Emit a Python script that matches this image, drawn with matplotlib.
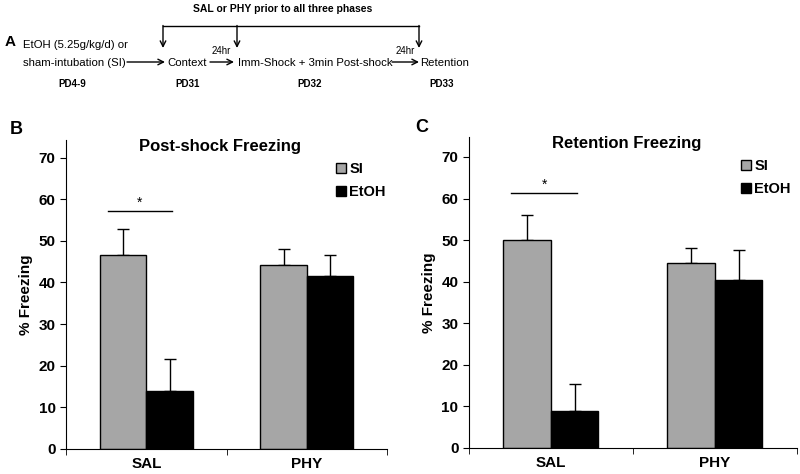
import matplotlib
matplotlib.use("Agg")
import matplotlib.pyplot as plt
from matplotlib import font_manager
from matplotlib.patches import Patch
import numpy as np

plt.rcParams['font.family'] = ['Liberation Sans', 'DejaVu Sans']

groups = ["SAL", "PHY"]
series = ["SI", "EtOH"]
colors = ["#a6a6a6", "#000000"]

post_si = [46.7, 44.1]
post_si_err = [6.1, 4.0]
post_etoh = [14.0, 41.5]
post_etoh_err = [7.6, 5.0]

ret_si = [50.0, 44.6]
ret_si_err = [6.1, 3.5]
ret_etoh = [9.0, 40.4]
ret_etoh_err = [6.4, 7.3]

# narrow font for the schematic if it is there
names = {f.name for f in font_manager.fontManager.ttflist}
if "Liberation Sans Narrow" in names:
    sfam, sbig, ssmall = ["Liberation Sans Narrow", "Liberation Sans"], 10.5, 8.5
else:
    sfam, sbig, ssmall = ["Liberation Sans", "DejaVu Sans"], 8.2, 7

fig = plt.figure(figsize=(8, 4.74), dpi=100)


def panel(rect, si, si_err, etoh, etoh_err, title, ytop, sig_y, sig_x, leg_xy):
    ax = fig.add_axes(rect)
    x = np.arange(len(groups))
    w = 0.29
    ax.bar(x - w / 2, si, w, color=colors[0], edgecolor="black", linewidth=1, zorder=2)
    ax.bar(x + w / 2, etoh, w, color=colors[1], edgecolor="black", linewidth=1, zorder=2)
    ax.errorbar(x - w / 2, si, yerr=[np.zeros(2), si_err], fmt="none", ecolor="black",
                elinewidth=1, capsize=4, capthick=1, zorder=1)
    ax.errorbar(x + w / 2, etoh, yerr=[np.zeros(2), etoh_err], fmt="none", ecolor="black",
                elinewidth=1, capsize=4, capthick=1, zorder=1)
    ax.set_xlim(-0.5, 1.5)
    ax.set_ylim(0, ytop)
    ax.set_yticks(range(0, 71, 10))
    ax.set_xticks(x)
    ax.set_xticklabels(groups, fontsize=11, fontweight="bold")
    ax.set_xticks([-0.5, 0.5, 1.5], minor=True)
    ax.tick_params(axis="x", which="major", length=0, pad=6)
    ax.tick_params(axis="x", which="minor", length=4, direction="out")
    ax.tick_params(axis="y", length=4, direction="out", labelsize=11)
    for lab in ax.get_yticklabels():
        lab.set_fontweight("bold")
    for s in ["top", "right"]:
        ax.spines[s].set_visible(False)
    ax.set_ylabel("% Freezing", fontsize=11, fontweight="bold", labelpad=4)
    ax.set_title(title, fontsize=12, fontweight="bold", pad=-8, x=0.48, y=1.0)
    ax.plot(sig_x, [sig_y, sig_y], color="black", lw=1)
    ax.text(np.mean(sig_x), sig_y + 0.3, "*", ha="center", va="bottom", fontsize=10)
    handles = [Patch(facecolor=colors[0], edgecolor="black"),
               Patch(facecolor=colors[1], edgecolor="black")]
    ax.legend(handles, series, loc="upper left", bbox_to_anchor=leg_xy, frameon=False,
              handlelength=0.7, handleheight=0.7, handletextpad=0.2, labelspacing=0.6,
              prop={"weight": "bold", "size": 10.5})
    return ax


panel([0.0825, 0.053, 0.4015, 0.652], post_si, post_si_err, post_etoh, post_etoh_err,
      "Post-shock Freezing", 74.3, 57.2, [-0.24, 0.16], (0.8, 0.97))
panel([0.586, 0.055, 0.41, 0.656], ret_si, ret_si_err, ret_etoh, ret_etoh_err,
      "Retention Freezing", 74.8, 61.3, [-0.24, 0.16], (0.79, 0.97))

# panel letters
fig.text(10 / 800, 1 - 130 / 474, "B", fontsize=13, fontweight="bold", va="center")
fig.text(415 / 800, 1 - 127 / 474, "C", fontsize=13, fontweight="bold", va="center")

# schematic (pixel coordinates)
ov = fig.add_axes([0, 0, 1, 1], facecolor="none")
ov.set_xlim(0, 800)
ov.set_ylim(474, 0)
ov.axis("off")

ov.text(5, 42, "A", fontsize=11, fontweight="bold", va="center")
ov.text(283, 9, "SAL or PHY prior to all three phases", fontsize=ssmall + 0.5,
        fontweight="bold", ha="center", va="center", family=sfam)
ov.plot([163, 419], [26, 26], color="black", lw=1)
for xa in [163, 237, 419]:
    ov.annotate("", xy=(xa, 48), xytext=(xa, 25.5),
                arrowprops=dict(arrowstyle="->", lw=1, color="black", shrinkA=0, shrinkB=0))

ov.text(23, 45, "EtOH (5.25g/kg/d) or", fontsize=sbig, va="center", family=sfam)
ov.text(23, 63, "sham-intubation (SI)", fontsize=sbig, va="center", family=sfam)
ov.text(72, 84, "PD4-9", fontsize=ssmall, fontweight="bold", ha="center", va="center",
        family=sfam)

steps = [(127, 165), (210, 234), (392, 419)]
for x0, x1 in steps:
    ov.annotate("", xy=(x1, 62), xytext=(x0, 62),
                arrowprops=dict(arrowstyle="->", lw=1, color="black", shrinkA=0, shrinkB=0))
ov.text(221, 51, "24hr", fontsize=ssmall, ha="center", va="center", family=sfam)
ov.text(405, 51, "24hr", fontsize=ssmall, ha="center", va="center", family=sfam)

ov.text(167, 63, "Context", fontsize=sbig, va="center", family=sfam)
ov.text(238, 63, "Imm-Shock + 3min Post-shock", fontsize=sbig, va="center", family=sfam)
ov.text(420, 63, "Retention", fontsize=sbig, va="center", family=sfam)
ov.text(188, 84, "PD31", fontsize=ssmall, fontweight="bold", ha="center", va="center",
        family=sfam)
ov.text(310, 84, "PD32", fontsize=ssmall, fontweight="bold", ha="center", va="center",
        family=sfam)
ov.text(442, 84, "PD33", fontsize=ssmall, fontweight="bold", ha="center", va="center",
        family=sfam)

fig.savefig("out.png", dpi=100)
